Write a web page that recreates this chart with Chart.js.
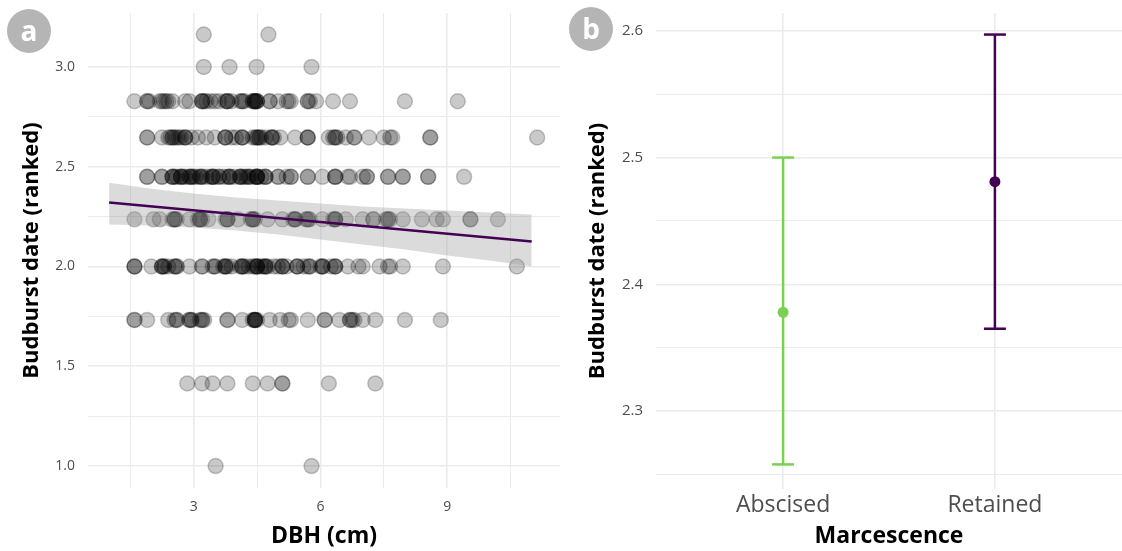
<!DOCTYPE html>
<html lang="en">
<head>
    <meta charset="UTF-8">
    <title>Budburst date vs DBH and marcescence</title>
    <script src="https://cdn.jsdelivr.net/npm/chart.js"></script>
    <style>
        body { margin: 0; background: white; font-family: "Open Sans", sans-serif; }
        .panel { position: absolute; top: 0; height: 551px; }
        .tag {
            position: absolute; width: 44px; height: 44px; border-radius: 50%;
            background: #b5b5b5; color: white; font: bold 28px "Open Sans", sans-serif;
            text-align: center; line-height: 42px;
        }
    </style>
</head>
<body>
    <div class="panel" style="left: 0; width: 560px;"><canvas id="chartA" width="560" height="551"></canvas></div>
    <div class="panel" style="left: 560px; width: 562px;"><canvas id="chartB" width="562" height="551"></canvas></div>
    <div class="tag" style="left: 7px; top: 9px;">a</div>
    <div class="tag" style="left: 569px; top: 7px;">b</div>

    <script>
        // --- panel a : budburst rank (sqrt scale) vs DBH ---
        // DBH values (cm) for each budburst level
        const dbhAt316 = [3.24, 4.77];
        const dbhAt300 = [3.24, 3.85, 4.49, 5.79];
        const dbhAt283 = [1.6, 1.9, 1.9, 1.95, 2.2, 2.25, 2.3, 2.35, 2.4, 2.5, 2.8, 2.9, 3.2, 3.2, 3.2, 3.25, 3.3, 3.4,
                          3.5, 3.6, 3.75, 3.8, 3.8, 3.8, 3.9, 4.1, 4.15, 4.15, 4.2, 4.4, 4.4, 4.45, 4.45, 4.45, 4.45,
                          4.5, 4.5, 4.5, 4.8, 4.8, 5.0, 5.2, 5.25, 5.3, 5.7, 5.7, 5.75, 5.9, 6.3, 6.7, 8.0, 9.25];
        const dbhAt265 = [1.9, 1.9, 2.25, 2.4, 2.45, 2.5, 2.5, 2.55, 2.6, 2.65, 2.7, 2.8, 2.8, 2.8, 2.95, 3.1, 3.3,
                          3.5, 3.75, 3.75, 3.75, 3.9, 4.0, 4.15, 4.15, 4.15, 4.4, 4.45, 4.5, 4.5, 4.55, 4.55, 4.6, 4.7,
                          4.85, 4.85, 4.85, 4.9, 5.05, 5.4, 5.7, 5.7, 5.7, 6.2, 6.3, 6.35, 6.35, 6.4, 6.6, 6.8, 6.8,
                          7.15, 7.5, 7.65, 7.7, 8.6, 8.6, 11.13];
        const dbhAt245 = [1.9, 1.9, 2.25, 2.25, 2.5, 2.5, 2.5, 2.55, 2.6, 2.7, 2.7, 2.7, 2.75, 2.8, 2.9, 2.9, 2.95,
                          2.95, 3.0, 3.05, 3.15, 3.15, 3.2, 3.2, 3.3, 3.4, 3.45, 3.45, 3.45, 3.5, 3.6, 3.6, 3.7, 3.8,
                          3.85, 3.85, 3.85, 3.95, 4.1, 4.1, 4.1, 4.15, 4.2, 4.25, 4.3, 4.3, 4.35, 4.45, 4.5, 4.5, 4.5,
                          4.5, 4.5, 4.6, 4.7, 4.7, 4.7, 5.0, 5.0, 5.2, 5.3, 5.3, 5.7, 5.7, 6.05, 6.35, 6.35, 6.35,
                          6.65, 6.7, 7.0, 7.1, 7.1, 7.6, 7.6, 7.95, 7.95, 8.55, 8.55, 9.4];
        const dbhAt224 = [1.6, 2.05, 2.2, 2.5, 2.55, 2.55, 2.55, 2.6, 2.9, 3.1, 3.15, 3.15, 3.15, 3.2, 3.35, 3.75, 3.8,
                          3.8, 3.8, 4.05, 4.35, 4.4, 4.4, 4.4, 4.45, 4.75, 5.1, 5.35, 5.4, 5.4, 5.4, 5.65, 5.7, 5.7,
                          5.75, 6.05, 6.3, 6.35, 6.35, 6.35, 6.6, 7.0, 7.25, 7.25, 7.55, 7.6, 7.6, 7.65, 7.95, 8.4,
                          8.75, 8.9, 9.55, 9.55, 10.2];
        const dbhAt200 = [1.6, 1.6, 1.6, 2.0, 2.25, 2.25, 2.25, 2.3, 2.3, 2.4, 2.55, 2.55, 2.6, 2.6, 2.9, 3.2, 3.2,
                          3.45, 3.5, 3.5, 3.7, 3.75, 3.75, 3.75, 3.8, 3.9, 4.1, 4.15, 4.15, 4.15, 4.2, 4.3, 4.4, 4.45,
                          4.5, 4.5, 4.5, 4.5, 4.6, 4.65, 4.7, 4.7, 4.7, 4.75, 4.9, 5.0, 5.1, 5.1, 5.1, 5.2, 5.45, 5.45,
                          5.45, 5.6, 5.7, 5.75, 5.75, 6.0, 6.05, 6.05, 6.05, 6.25, 6.35, 6.35, 6.35, 6.65, 6.9, 7.0,
                          7.4, 7.6, 7.65, 7.95, 8.9, 10.65];
        const dbhAt173 = [1.6, 1.6, 1.9, 2.4, 2.55, 2.6, 2.6, 2.9, 2.9, 2.95, 2.95, 3.15, 3.2, 3.2, 3.25, 3.8, 3.8,
                          4.15, 4.4, 4.45, 4.45, 4.45, 4.45, 4.45, 4.5, 4.8, 5.05, 5.25, 5.3, 5.7, 6.1, 6.1, 6.45, 6.7,
                          6.7, 6.75, 6.8, 7.0, 7.3, 8.0, 8.85];
        const dbhAt141 = [2.85, 3.2, 3.45, 3.8, 4.4, 4.75, 5.1, 5.1, 6.2, 7.3];
        const dbhAt100 = [3.52, 5.79];

        const budburstLevels = [3.162, 3.0, 2.828, 2.646, 2.449, 2.236, 2.0, 1.732, 1.414, 1.0];
        const dbhByLevel = [dbhAt316, dbhAt300, dbhAt283, dbhAt265, dbhAt245, dbhAt224, dbhAt200, dbhAt173, dbhAt141, dbhAt100];

        // linear fit and its confidence band
        const fitX = [1, 11];
        const fitY = [2.32, 2.125];
        const bandX = [1, 2, 3, 4, 5, 6, 7, 8, 9, 10, 11];
        const bandUpper = [2.42, 2.39, 2.365, 2.345, 2.33, 2.315, 2.30, 2.29, 2.28, 2.27, 2.26];
        const bandLower = [2.21, 2.205, 2.195, 2.18, 2.16, 2.135, 2.11, 2.085, 2.055, 2.03, 2.0];

        const aXTicks = [1.5, 3, 4.5, 6, 7.5, 9, 10.5];
        const aXLabels = [3, 6, 9];
        const aYTicks = [1.0, 1.25, 1.5, 1.75, 2.0, 2.25, 2.5, 2.75, 3.0];

        // --- panel b : mean and interval by marcescence ---
        const categories = ['Abscised', 'Retained'];
        const means = [2.378, 2.481];
        const lowers = [2.258, 2.365];
        const uppers = [2.5, 2.597];
        const catColors = ['#7AD151', '#440154'];
        const bYTicks = [2.25, 2.3, 2.35, 2.4, 2.45, 2.5, 2.55, 2.6];

        const gridColor = '#ebebeb';
        const tickColor = '#4d4d4d';
        const fontFamily = '"Open Sans", sans-serif';

        const isMajor = (v, step) => Math.abs(v / step - Math.round(v / step)) < 1e-6;

        // keep the plot area where the layout padding puts it
        const noEdgePadding = s => {
            s.paddingTop = 0; s.paddingBottom = 0;
            s.paddingLeft = 0; s.paddingRight = 0;
        };

        function buildPanelA() {
            const points = [];
            budburstLevels.forEach((y, i) => {
                dbhByLevel[i].forEach(x => points.push({ x: x, y: y }));
            });

            new Chart(document.getElementById('chartA'), {
                type: 'scatter',
                data: {
                    datasets: [{
                        type: 'line',
                        data: fitX.map((x, i) => ({ x: x, y: fitY[i] })),
                        borderColor: '#440154',
                        borderWidth: 2.5,
                        pointRadius: 0,
                        fill: false
                    }, {
                        type: 'line',
                        data: bandX.map((x, i) => ({ x: x, y: bandUpper[i] })),
                        borderColor: 'transparent',
                        backgroundColor: 'rgba(153, 153, 153, 0.35)',
                        pointRadius: 0,
                        fill: '+1'
                    }, {
                        type: 'line',
                        data: bandX.map((x, i) => ({ x: x, y: bandLower[i] })),
                        borderColor: 'transparent',
                        pointRadius: 0,
                        fill: false
                    }, {
                        data: points,
                        backgroundColor: 'rgba(0, 0, 0, 0.21)',
                        borderColor: 'rgba(0, 0, 0, 0.21)',
                        borderWidth: 1.5,
                        pointRadius: 7.5
                    }]
                },
                options: {
                    responsive: false,
                    animation: false,
                    devicePixelRatio: 1,
                    layout: { autoPadding: false, padding: { top: 13, right: 0, bottom: 0, left: 0 } },
                    plugins: { legend: { display: false }, tooltip: { enabled: false } },
                    scales: {
                        x: {
                            type: 'linear',
                            min: 0.5,
                            max: 11.67,
                            afterBuildTicks: s => { s.ticks = aXTicks.map(v => ({ value: v })); },
                            afterFit: s => { s.height = 63; noEdgePadding(s); },
                            border: { display: false },
                            grid: {
                                color: gridColor,
                                drawTicks: false,
                                lineWidth: c => (c.tick && aXLabels.includes(c.tick.value)) ? 1.6 : 1
                            },
                            ticks: {
                                color: tickColor,
                                font: { family: fontFamily, size: 14 },
                                padding: 11,
                                maxRotation: 0,
                                autoSkip: false,
                                callback: v => aXLabels.includes(v) ? String(v) : ''
                            },
                            title: {
                                display: true,
                                text: 'DBH (cm)',
                                color: '#000',
                                font: { family: fontFamily, size: 23, weight: 'bold' },
                                padding: 1
                            }
                        },
                        y: {
                            min: 0.89,
                            max: 3.27,
                            afterBuildTicks: s => { s.ticks = aYTicks.map(v => ({ value: v })); },
                            afterFit: s => { s.width = 88; noEdgePadding(s); },
                            border: { display: false },
                            grid: {
                                color: gridColor,
                                drawTicks: false,
                                lineWidth: c => (c.tick && isMajor(c.tick.value, 0.5)) ? 1.6 : 1
                            },
                            ticks: {
                                color: tickColor,
                                font: { family: fontFamily, size: 14 },
                                padding: 13,
                                autoSkip: false,
                                callback: v => isMajor(v, 0.5) ? v.toFixed(1) : ''
                            },
                            title: {
                                display: true,
                                text: 'Budburst date (ranked)',
                                color: '#000',
                                font: { family: fontFamily, size: 22, weight: 'bold' },
                                padding: 19
                            }
                        }
                    }
                }
            });
        }

        function buildPanelB() {
            const datasets = [{
                data: means.map((m, i) => ({ x: i + 1, y: m })),
                pointBackgroundColor: catColors,
                pointBorderColor: catColors,
                pointRadius: 5.5,
                borderWidth: 0
            }];
            categories.forEach((c, i) => {
                datasets.push({
                    type: 'line',
                    data: [{ x: i + 1, y: lowers[i] }, { x: i + 1, y: uppers[i] }],
                    borderColor: catColors[i],
                    borderWidth: 2.5,
                    pointStyle: 'line',
                    pointRadius: 11,
                    pointBorderColor: catColors[i],
                    pointBorderWidth: 2.5,
                    fill: false
                });
            });

            new Chart(document.getElementById('chartB'), {
                type: 'scatter',
                data: { datasets: datasets },
                options: {
                    responsive: false,
                    animation: false,
                    devicePixelRatio: 1,
                    layout: { autoPadding: false, padding: { top: 13, right: 0, bottom: 0, left: 0 } },
                    plugins: { legend: { display: false }, tooltip: { enabled: false } },
                    scales: {
                        x: {
                            type: 'linear',
                            min: 0.4,
                            max: 2.6,
                            afterBuildTicks: s => { s.ticks = [1, 2].map(v => ({ value: v })); },
                            afterFit: s => { s.height = 62; noEdgePadding(s); },
                            border: { display: false },
                            grid: { color: gridColor, drawTicks: false, lineWidth: 1.6 },
                            ticks: {
                                color: tickColor,
                                font: { family: fontFamily, size: 23 },
                                padding: 3,
                                maxRotation: 0,
                                autoSkip: false,
                                callback: v => categories[v - 1] || ''
                            },
                            title: {
                                display: true,
                                text: 'Marcescence',
                                color: '#000',
                                font: { family: fontFamily, size: 23, weight: 'bold' },
                                padding: 1
                            }
                        },
                        y: {
                            min: 2.2386,
                            max: 2.614,
                            afterBuildTicks: s => { s.ticks = bYTicks.map(v => ({ value: v })); },
                            afterFit: s => { s.width = 96; noEdgePadding(s); },
                            border: { display: false },
                            grid: {
                                color: gridColor,
                                drawTicks: false,
                                lineWidth: c => (c.tick && isMajor(c.tick.value, 0.1)) ? 1.6 : 1
                            },
                            ticks: {
                                color: tickColor,
                                font: { family: fontFamily, size: 15 },
                                padding: 13,
                                autoSkip: false,
                                callback: v => isMajor(v, 0.1) ? v.toFixed(1) : ''
                            },
                            title: {
                                display: true,
                                text: 'Budburst date (ranked)',
                                color: '#000',
                                font: { family: fontFamily, size: 22, weight: 'bold' },
                                padding: 25
                            }
                        }
                    }
                }
            });
        }

        buildPanelA();
        buildPanelB();
    </script>
</body>
</html>
